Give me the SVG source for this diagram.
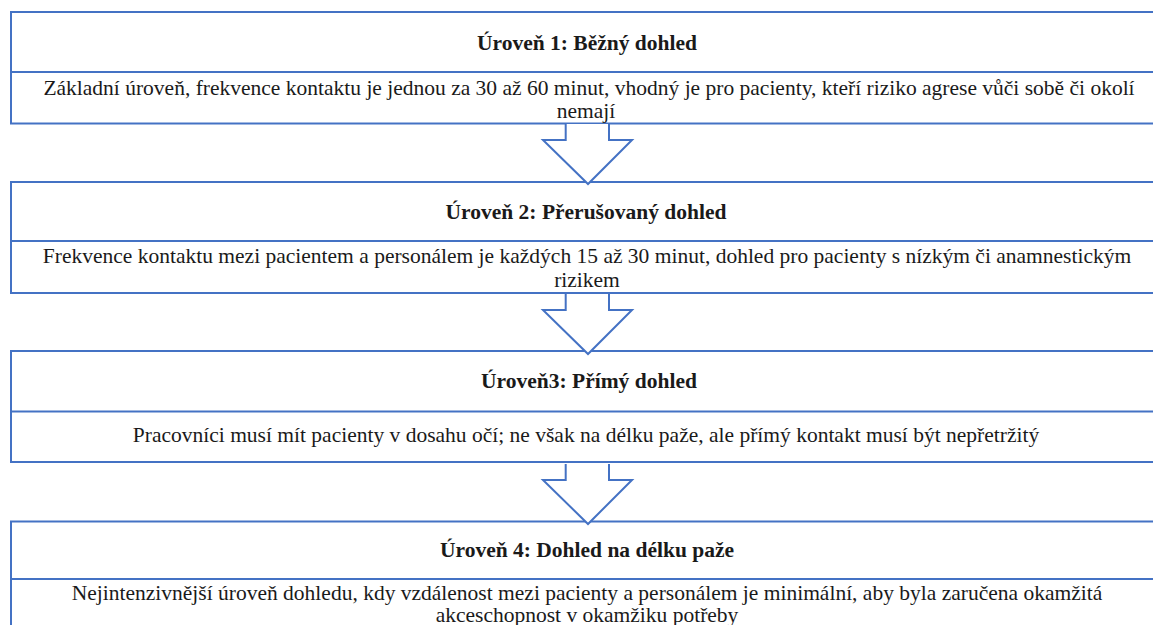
<svg xmlns="http://www.w3.org/2000/svg" width="1153" height="625" viewBox="0 0 1153 625">
  <style>
    .box { fill: #ffffff; stroke: #4472c4; stroke-width: 2; }
    .div { stroke: #4472c4; stroke-width: 1.8; }
    .arrow { fill: #ffffff; stroke: #4472c4; stroke-width: 2; stroke-linejoin: miter; }
    .title { font-family: 'Liberation Serif', serif; font-weight: bold; fill: #1a1a1a; text-anchor: middle; font-size: 21.5px; }
    .body { font-family: 'Liberation Serif', serif; font-weight: 400; fill: #1a1a1a; text-anchor: middle; font-size: 21.5px; }
  </style>
  <rect width="1153" height="625" fill="#ffffff"/>

  <g id="level1">
    <rect class="box" x="11" y="12" width="1160" height="111.5"/>
    <line class="div" x1="11" y1="72" x2="1171" y2="72"/>
    <text class="title" x="587" y="50">Úroveň 1: Běžný dohled</text>
    <text class="body" x="589" y="95">Základní úroveň, frekvence kontaktu je jednou za 30 až 60 minut, vhodný je pro pacienty, kteří riziko agrese vůči sobě či okolí</text>
    <text class="body" x="586" y="118">nemají</text>
  </g>

  <g id="level2">
    <rect class="box" x="11" y="182" width="1160" height="111"/>
    <line class="div" x1="11" y1="241" x2="1171" y2="241"/>
    <text class="title" x="586" y="219">Úroveň 2: Přerušovaný dohled</text>
    <text class="body" x="587" y="263">Frekvence kontaktu mezi pacientem a personálem je každých 15 až 30 minut, dohled pro pacienty s nízkým či anamnestickým</text>
    <text class="body" x="587" y="287">rizikem</text>
  </g>

  <g id="level3">
    <rect class="box" x="11" y="351" width="1160" height="111"/>
    <line class="div" x1="11" y1="411.5" x2="1171" y2="411.5"/>
    <text class="title" x="589" y="388">Úroveň3: Přímý dohled</text>
    <text class="body" x="586" y="442">Pracovníci musí mít pacienty v dosahu očí; ne však na délku paže, ale přímý kontakt musí být nepřetržitý</text>
  </g>

  <g id="level4">
    <rect class="box" x="11" y="521.5" width="1160" height="120"/>
    <line class="div" x1="11" y1="579" x2="1171" y2="579"/>
    <text class="title" x="587" y="557">Úroveň 4: Dohled na délku paže</text>
    <text class="body" x="587" y="600">Nejintenzivnější úroveň dohledu, kdy vzdálenost mezi pacienty a personálem je minimální, aby byla zaručena okamžitá</text>
    <text class="body" x="587" y="622">akceschopnost v okamžiku potřeby</text>
  </g>

  <g id="connectors">
    <path class="arrow" d="M565.7,124 V140 H543 L588,184 L632,140 H609 V124"/>
    <path class="arrow" d="M565.7,294 V310 H543 L588,354 L632,310 H609 V294"/>
    <path class="arrow" d="M565.7,464 V480 H543 L588,524 L632,480 H609 V464"/>
  </g>
</svg>
